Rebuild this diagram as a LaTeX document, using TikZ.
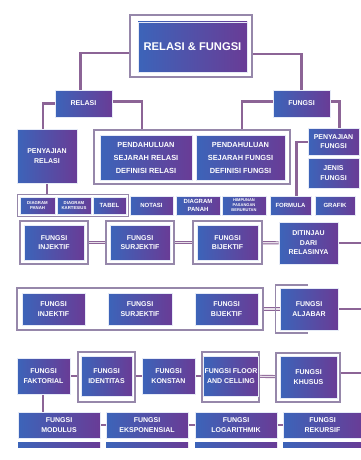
\documentclass[tikz,border=0pt]{standalone}
\usepackage{fontspec}
\setmainfont{Liberation Sans}
\usetikzlibrary{calc}
\pgfdeclarelayer{background}
\pgfsetlayers{background,main}
\definecolor{conn}{RGB}{140,100,150}
\definecolor{framec}{RGB}{150,135,170}
\definecolor{bA}{RGB}{60,100,185}
\definecolor{bB}{RGB}{90,120,200}
\definecolor{bC}{RGB}{105,60,150}
\newcommand\bx[7]{\node[#2, minimum width={#5-#3}, minimum height={#6-#4}] (#1) at ({(#3+#5)/2},{(#4+#6)/2}) {#7};}
\tikzset{
  box/.style={draw=white!85!bB, line width=0.8pt, left color=bA, middle color=bB, right color=bC,
    text=white, font=\bfseries\fontsize{7}{9.5}\selectfont, align=center, inner sep=1pt},
  pbox/.style={box, font=\bfseries\fontsize{7.4}{13}\selectfont},
  tbox/.style={box, font=\bfseries\fontsize{11.2}{13}\selectfont},
  sbox/.style={box, font=\bfseries\fontsize{4.3}{5.6}\selectfont},
  hbox/.style={box, font=\bfseries\fontsize{4}{5}\selectfont},
  mbox/.style={box, font=\bfseries\fontsize{6}{7.5}\selectfont},
  frame/.style={draw=framec, line width=1.6pt, fill=white, inner sep=0pt},
  conn/.style={draw=conn, line width=2.2pt},
  dconn/.style={draw=conn, line width=0.9pt, double=white!80!conn, double distance=1.3pt},
}
\begin{document}
\begin{tikzpicture}[x=1pt,y=-1pt]
\useasboundingbox (0,0) rectangle (361,460);
% frames
\bx{titlef}{frame}{130}{15}{252}{77}{}
\bx{pendf}{frame}{94}{130}{290}{184}{}
\bx{relg}{frame,line width=1pt}{17}{194}{128}{216}{}
\bx{inj1f}{frame}{20}{221}{88}{264}{}
\bx{sur1f}{frame}{106}{221}{174}{264}{}
\bx{bij1f}{frame}{193}{221}{262}{264}{}
\bx{row4f}{frame}{17}{288}{263}{330}{}
\bx{idf}{frame}{78}{352}{135}{402}{}
\bx{floorf}{frame}{202}{352}{259}{402}{}
\bx{khf}{frame}{276}{353}{340}{402}{}
% boxes
\bx{title}{tbox}{138}{22}{247}{72}{RELASI \& FUNGSI}
\bx{relasi}{box}{55}{90}{112}{117}{RELASI}
\bx{fungsi}{box}{273}{90}{330}{117}{FUNGSI}
\bx{penrel}{box}{17}{129}{77}{183}{PENYAJIAN\\RELASI}
\bx{pendrel}{pbox}{100}{135}{192}{180}{PENDAHULUAN\\SEJARAH RELASI\\DEFINISI RELASI}
\bx{pendfun}{pbox}{196}{135}{285}{180}{PENDAHULUAN\\SEJARAH FUNGSI\\DEFINISI FUNGSI}
\bx{penfun}{box}{308}{128}{359}{155}{PENYAJIAN\\FUNGSI}
\bx{jenis}{box}{308}{158}{359}{188}{JENIS\\FUNGSI}
\bx{dpanah1}{sbox}{20}{197}{55}{214}{DIAGRAM\\PANAH}
\bx{dkart}{sbox}{57}{197}{91}{214}{DIAGRAM\\KARTESIUS}
\bx{tabel}{mbox}{93}{197}{126}{214}{TABEL}
\bx{notasi}{mbox}{130}{196}{173}{215}{NOTASI}
\bx{dpanah2}{mbox}{176}{196}{220}{215}{DIAGRAM\\PANAH}
\bx{himp}{hbox}{222}{196}{266}{215}{HIMPUNAN\\PASANGAN\\BERURUTAN}
\bx{formula}{mbox}{270}{196}{311}{215}{FORMULA}
\bx{grafik}{mbox}{315}{196}{355}{215}{GRAFIK}
\bx{inj1}{box}{24}{225}{84}{260}{FUNGSI\\INJEKTIF}
\bx{sur1}{box}{110}{225}{170}{260}{FUNGSI\\SURJEKTIF}
\bx{bij1}{box}{197}{225}{258}{260}{FUNGSI\\BIJEKTIF}
\bx{ditinjau}{box}{279}{222}{338}{264}{DITINJAU\\DARI\\RELASINYA}
\bx{inj2}{box}{22}{293}{85}{325}{FUNGSI\\INJEKTIF}
\bx{sur2}{box}{108}{293}{172}{325}{FUNGSI\\SURJEKTIF}
\bx{bij2}{box}{195}{293}{258}{325}{FUNGSI\\BIJEKTIF}
\bx{aljabar}{box}{280}{288}{338}{330}{FUNGSI\\ALJABAR}
\bx{faktorial}{box}{17}{358}{70}{394}{FUNGSI\\FAKTORIAL}
\bx{identitas}{box}{81}{356}{132}{396}{FUNGSI\\IDENTITAS}
\bx{konstan}{box}{142}{358}{195}{394}{FUNGSI\\KONSTAN}
\bx{floor}{box}{206}{356}{256}{396}{FUNGSI FLOOR\\AND CELLING}
\bx{khusus}{box}{280}{356}{337}{398}{FUNGSI\\KHUSUS}
\bx{modulus}{box}{18}{412}{100}{438}{FUNGSI\\MODULUS}
\bx{eksp}{box}{106}{412}{188}{438}{FUNGSI\\EKSPONENSIAL}
\bx{log}{box}{195}{412}{277}{438}{FUNGSI\\LOGARITHMIK}
\bx{rekursif}{box}{283}{412}{362}{438}{FUNGSI\\REKURSIF}
\bx{s1}{box,draw=none}{18}{442}{100}{447}{}
\bx{s2}{box,draw=none}{106}{442}{188}{447}{}
\bx{s3}{box,draw=none}{195}{442}{277}{447}{}
\bx{s4}{box,draw=none}{283}{442}{362}{447}{}
% free ends
\coordinate (eR1) at (361,243);
\coordinate (eR2) at (361,309);
\coordinate (eR3) at (361,373);
\coordinate (bt) at (308,285);
\coordinate (bb) at (308,333);
% connectors
\begin{pgfonlayer}{background}
\draw[conn] ([yshift=-7]titlef.west) -| ([xshift=-3]relasi.north);
\draw[conn] ([yshift=-8]titlef.east) -| (fungsi.north);
\draw[conn] (relasi.west) -| ([xshift=-4]penrel.north);
\draw[conn] ([yshift=2]relasi.east) -| ([xshift=-50]pendf.north);
\draw[conn] ([yshift=2]fungsi.west) -| ([xshift=50]pendf.north);
\draw[conn] ([yshift=2]fungsi.east) -| ([xshift=6]penfun.north);
\draw[conn] (penrel.south) -- (penrel.south |- relg.north);
\draw[conn] ([yshift=-0.5]penfun.west) -| ([xshift=6]formula.north);
\draw[dconn] (inj1f) -- (sur1f);
\draw[dconn] (sur1f) -- (bij1f);
\draw[dconn] (bij1f) -- (ditinjau);
\draw[conn] (ditinjau) -- (eR1);
\draw[dconn] (inj2) -- (sur2);
\draw[dconn] (sur2) -- (bij2);
\draw[dconn] (bij2) -- (aljabar);
\draw[conn] (aljabar) -- (eR2);
\draw[draw=framec, line width=1.6pt] (bt) -| ([xshift=-4]aljabar.south west |- bb) -- (bb);
\draw[conn] (faktorial) -- (identitas);
\draw[conn] (identitas) -- (konstan);
\draw[conn] (konstan) -- (floor);
\draw[dconn] (floor) -- (khusus);
\draw[conn] (khusus.east |- eR3) -- (eR3);
\draw[conn] ([xshift=-0.5]faktorial.south) -- ([xshift=-0.5]faktorial.south |- modulus.north);
\draw[conn] (modulus) -- (eksp);
\draw[conn] (eksp) -- (log);
\draw[conn] (log) -- (rekursif);
\end{pgfonlayer}
\end{tikzpicture}
\end{document}
